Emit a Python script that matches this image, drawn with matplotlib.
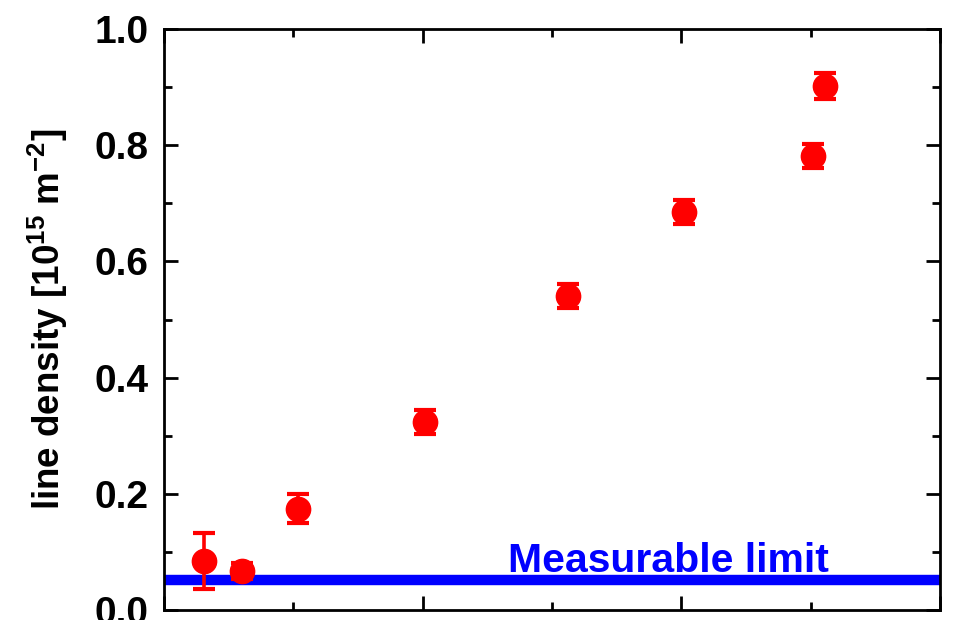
import numpy as np
import matplotlib
matplotlib.use("Agg")
import matplotlib.pyplot as plt
from matplotlib.ticker import MultipleLocator, NullFormatter

# data (x in arbitrary units, cropped tick labels)
xs = [0.31, 0.60, 1.04, 2.02, 3.12, 4.02, 5.02, 5.11]
ys = [0.085, 0.067, 0.174, 0.324, 0.540, 0.685, 0.781, 0.902]
yerr = [0.048, 0.014, 0.025, 0.021, 0.021, 0.021, 0.021, 0.022]
limit = 0.052
limit_label = "Measurable limit"

plt.rcParams['font.family'] = ['Liberation Sans', 'DejaVu Sans']
plt.rcParams['font.weight'] = 'bold'
plt.rcParams['mathtext.fontset'] = 'custom'
plt.rcParams['mathtext.bf'] = 'Liberation Sans:bold'
plt.rcParams['mathtext.rm'] = 'Liberation Sans:bold'
plt.rcParams['mathtext.default'] = 'bf'

fig = plt.figure(figsize=(9.55, 6.2), dpi=100)
ax = fig.add_axes([0.1717, 0.0161, 0.8126, 0.9371])

ax.axhline(limit, color='#0000ff', linewidth=7.5, zorder=2)
ax.text(2.66, 0.0654, limit_label, color='#0000ff', fontsize=29.5,
        fontweight='bold', va='baseline', ha='left')

ax.errorbar(xs, ys, yerr=yerr, fmt='o', color='#ff0000', markersize=17.5,
            elinewidth=2.6, capsize=7.8, capthick=3, zorder=3)

ax.set_xlim(0, 6)
ax.set_ylim(0, 1.0)
ax.xaxis.set_major_locator(MultipleLocator(2))
ax.xaxis.set_minor_locator(MultipleLocator(1))
ax.xaxis.set_major_formatter(NullFormatter())
ax.yaxis.set_minor_locator(MultipleLocator(0.1))
ax.set_yticks([0, 0.2, 0.4, 0.6, 0.8, 1.0])
ax.set_yticklabels(['0.0', '0.2', '0.4', '0.6', '0.8', '1.0'])

ax.tick_params(which='both', direction='in', top=True, right=True,
               width=2, labelsize=28, pad=11)
ax.tick_params(which='major', length=10)
ax.tick_params(which='minor', length=5.5)
for s in ax.spines.values():
    s.set_linewidth(2)

ax.set_ylabel(r"line density [10$^{15}$ m$^{-2}$]", fontsize=26.5,
              fontweight='bold', labelpad=18)

fig.savefig("out.png", dpi=100)
